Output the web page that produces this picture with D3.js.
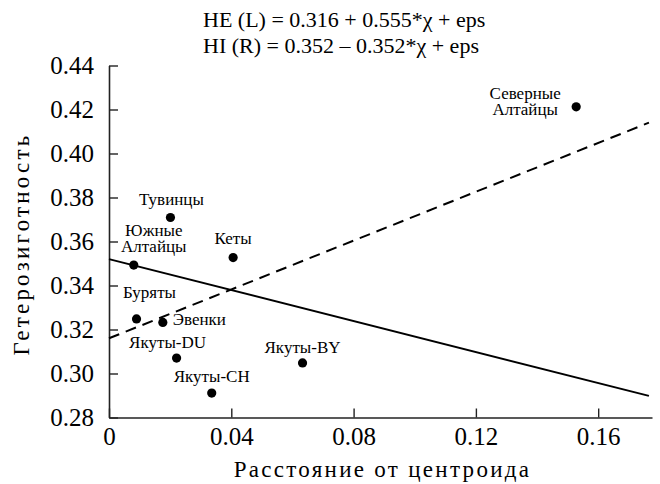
<!DOCTYPE html>
<html>
<head>
<meta charset="utf-8">
<script src="https://cdn.jsdelivr.net/npm/d3@7"></script>
<style>
  html, body { margin: 0; padding: 0; background: #fff; }
  svg { display: block; }
</style>
</head>
<body>
<svg id="chart" width="660" height="484"></svg>
<script>
// ---- data ----
const populations = ["Северные Алтайцы", "Тувинцы", "Южные Алтайцы", "Кеты", "Буряты", "Эвенки", "Якуты-DU", "Якуты-CH", "Якуты-BY"];
const distance    = [0.1528, 0.0201, 0.0081, 0.0406, 0.0090, 0.0176, 0.0221, 0.0336, 0.0633];
const heterozyg   = [0.4212, 0.3709, 0.3493, 0.3527, 0.3248, 0.3232, 0.3070, 0.2911, 0.3048];
const xTicks = [0, 0.04, 0.08, 0.12, 0.16];
const xTickLabels = ["0", "0.04", "0.08", "0.12", "0.16"];
const yTicks = [0.28, 0.30, 0.32, 0.34, 0.36, 0.38, 0.40, 0.42, 0.44];
const yTickLabels = ["0.28", "0.30", "0.32", "0.34", "0.36", "0.38", "0.40", "0.42", "0.44"];
const titleLines = ["HE (L) = 0.316 + 0.555*χ + eps", "HI (R) = 0.352 – 0.352*χ + eps"];
const fitHE = { intercept: 0.316, slope: 0.555 };
const fitHI = { intercept: 0.352, slope: -0.352 };
const xLabel = "Расстояние от центроида";
const yLabel = "Гетерозиготность";

// ---- layout (label placement relative to each point) ----
const labelLayout = [
  { lines: ["Северные", "Алтайцы"], dx: -51, dy: [-8, 8], anchor: "middle" },
  { lines: ["Тувинцы"], dx: 1, dy: [-13], anchor: "middle" },
  { lines: ["Южные", "Алтайцы"], dx: 20, dy: [-29, -13], anchor: "middle" },
  { lines: ["Кеты"], dx: 0, dy: [-14], anchor: "middle" },
  { lines: ["Буряты"], dx: 13, dy: [-21], anchor: "middle" },
  { lines: ["Эвенки"], dx: 10, dy: [3], anchor: "start" },
  { lines: ["Якуты-DU"], dx: -9, dy: [-10], anchor: "middle" },
  { lines: ["Якуты-CH"], dx: 0, dy: [-11], anchor: "middle" },
  { lines: ["Якуты-BY"], dx: 0, dy: [-10], anchor: "middle" }
];

const FONT = '"Liberation Serif", "Times New Roman", serif';
const svg = d3.select("#chart").style("font-family", FONT);
const mLeft = 109, mRight = 652, mTop = 65.5, mBottom = 417.5;
const x = d3.scaleLinear().domain([0, 0.1776]).range([mLeft, mRight]);
const y = d3.scaleLinear().domain([0.28, 0.44]).range([mBottom, mTop]);

// title
svg.append("g").selectAll("text").data(titleLines).join("text")
  .attr("x", 203).attr("y", (d, i) => 27 + i * 26)
  .attr("font-size", 22).attr("fill", "#000")
  .style("font-family", FONT)
  .text(d => d);

// axes
const xAxis = d3.axisBottom(x).tickValues(xTicks)
  .tickFormat((d, i) => xTickLabels[i]).tickSizeInner(-9).tickSizeOuter(0).tickPadding(10);
const yAxis = d3.axisLeft(y).tickValues(yTicks)
  .tickFormat((d, i) => yTickLabels[i]).tickSizeInner(-9).tickSizeOuter(0).tickPadding(15);

const gx = svg.append("g").attr("transform", `translate(0,${mBottom})`).call(xAxis);
const gy = svg.append("g").attr("transform", `translate(${mLeft},0)`).call(yAxis);
[gx, gy].forEach(g => {
  g.attr("font-family", null).attr("font-size", 25).style("font-family", FONT);
  g.selectAll("path.domain").attr("stroke", "#222").attr("stroke-width", 1.6);
  g.selectAll(".tick line").attr("stroke", "#222").attr("stroke-width", 1.4);
  g.selectAll(".tick text").attr("fill", "#000").style("font-family", FONT);
});

// regression lines
const xEnd = 0.1766;
const line = d3.line().x(d => x(d[0])).y(d => y(d[1]));
const lineData = f => [[0, f.intercept], [xEnd, f.intercept + f.slope * xEnd]];
svg.append("path").attr("d", line(lineData(fitHI)))
  .attr("fill", "none").attr("stroke", "#000").attr("stroke-width", 2);
svg.append("path").attr("d", line(lineData(fitHE)))
  .attr("fill", "none").attr("stroke", "#000").attr("stroke-width", 2)
  .attr("stroke-dasharray", "11,7");

// points
svg.append("g").selectAll("circle").data(populations).join("circle")
  .attr("cx", (d, i) => x(distance[i])).attr("cy", (d, i) => y(heterozyg[i]))
  .attr("r", 4.6).attr("fill", "#000");

// point labels
const lg = svg.append("g").attr("font-size", 17).attr("fill", "#000");
populations.forEach((p, i) => {
  const L = labelLayout[i];
  L.lines.forEach((t, j) => {
    lg.append("text")
      .attr("x", x(distance[i]) + L.dx)
      .attr("y", y(heterozyg[i]) + L.dy[j])
      .attr("text-anchor", L.anchor)
      .style("font-family", FONT)
      .text(t);
  });
});

// axis titles
svg.append("text").attr("x", (mLeft + mRight) / 2 + 2).attr("y", 477)
  .attr("text-anchor", "middle").attr("font-size", 23).attr("letter-spacing", 2.3)
  .attr("fill", "#000").style("font-family", FONT).text(xLabel);
svg.append("text").attr("transform", `translate(29,244) rotate(-90)`)
  .attr("text-anchor", "middle").attr("font-size", 23).attr("letter-spacing", 3.2)
  .attr("fill", "#000").style("font-family", FONT).text(yLabel);
</script>
</body>
</html>
